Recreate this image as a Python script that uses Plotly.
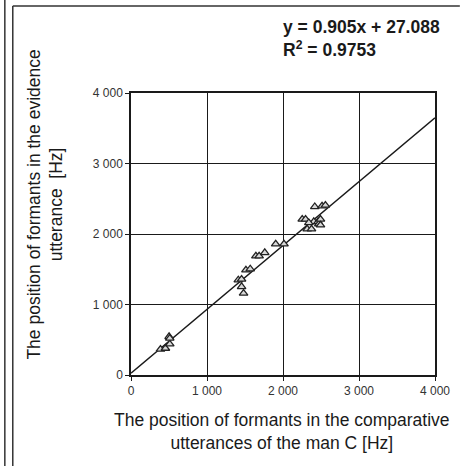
import plotly.graph_objects as go

# ---- data ----
comparative_hz = [388, 453, 510, 501, 510,
                  1412, 1455, 1455, 1481, 1512, 1569, 1643, 1686, 1760, 1904, 2013,
                  2253, 2297, 2318, 2375, 2405, 2418, 2462, 2471, 2493, 2493, 2514, 2558, 2340]
evidence_hz = [364, 378, 440, 544, 520,
               1348, 1357, 1253, 1159, 1489, 1504, 1688, 1688, 1735, 1858, 1858,
               2208, 2208, 2071, 2071, 2175, 2387, 2175, 2142, 2208, 2128, 2397, 2407, 2160]
slope = 0.905
intercept = 27.088
r_squared = 0.9753
tick_values = [0, 1000, 2000, 3000, 4000]
tick_labels = ["0", "1 000", "2 000", "3 000", "4 000"]
fit_x = [0, 4000]
fit_y = [slope * v + intercept for v in fit_x]

# ---- layout geometry ----
W, H = 462, 466
L, R, T, B = 131, 25, 93, 91
PW, PH = W - L - R, H - T - B

def px(xp):
    return (xp - L) / PW

def py(yp):
    return (H - B - yp) / PH

FONT = "Liberation Sans, Arial, sans-serif"

fig = go.Figure()
fig.add_trace(go.Scatter(x=fit_x, y=fit_y, mode="lines",
                         line=dict(color="#1a1a1a", width=1.4),
                         hoverinfo="skip", showlegend=False))
fig.add_trace(go.Scatter(x=comparative_hz, y=evidence_hz, mode="markers",
                         marker=dict(symbol="triangle-up", size=7.5, color="#d8d8d8",
                                     line=dict(color="#222222", width=1.3)),
                         showlegend=False))

axis_common = dict(range=[0, 4000], tickvals=tick_values, ticktext=tick_labels,
                   showgrid=True, gridcolor="#1a1a1a", gridwidth=1.3,
                   showline=True, linecolor="#1a1a1a", linewidth=1.5, mirror=True,
                   ticks="outside", ticklen=4, tickcolor="#1a1a1a", tickwidth=1.3,
                   zeroline=False,
                   tickfont=dict(family=FONT, size=12, color="#333333"))
fig.update_xaxes(**axis_common)
fig.update_yaxes(**axis_common)

annotations = [
    dict(text="<b>y = 0.905x + 27.088</b>", x=px(282), y=py(27), xanchor="left", yanchor="middle"),
    dict(text="<b>R<sup>2</sup> = 0.9753</b>", x=px(282), y=py(49), xanchor="left", yanchor="middle"),
    dict(text="The position of formants in the comparative<br>utterances of the man C [Hz]",
         x=px(283), y=py(431), xanchor="center", yanchor="middle"),
    dict(text="The position of formants in the evidence<br>utterance\u00a0 [Hz]",
         x=px(44), y=py(205), xanchor="center", yanchor="middle", textangle=-90),
]
for a in annotations:
    a.update(xref="paper", yref="paper", showarrow=False,
             font=dict(family=FONT, size=17.5, color="#1a1a1a"))
fig.update_layout(annotations=annotations)

frame = dict(color="#333333", width=1.5)
fig.update_layout(shapes=[
    dict(type="line", xref="paper", yref="paper", x0=px(4), x1=px(4), y0=py(0), y1=py(466), line=frame),
    dict(type="line", xref="paper", yref="paper", x0=px(12), x1=px(12), y0=py(6), y1=py(466), line=frame),
    dict(type="line", xref="paper", yref="paper", x0=px(12), x1=px(462), y0=py(6), y1=py(6), line=frame),
])

fig.update_layout(width=W, height=H, margin=dict(l=L, r=R, t=T, b=B),
                  paper_bgcolor="white", plot_bgcolor="white",
                  showlegend=False, font=dict(family=FONT))
fig.write_html("out.html", config={"displayModeBar": False},
               post_script="document.body.style.margin='0';document.body.style.overflow='hidden';")
